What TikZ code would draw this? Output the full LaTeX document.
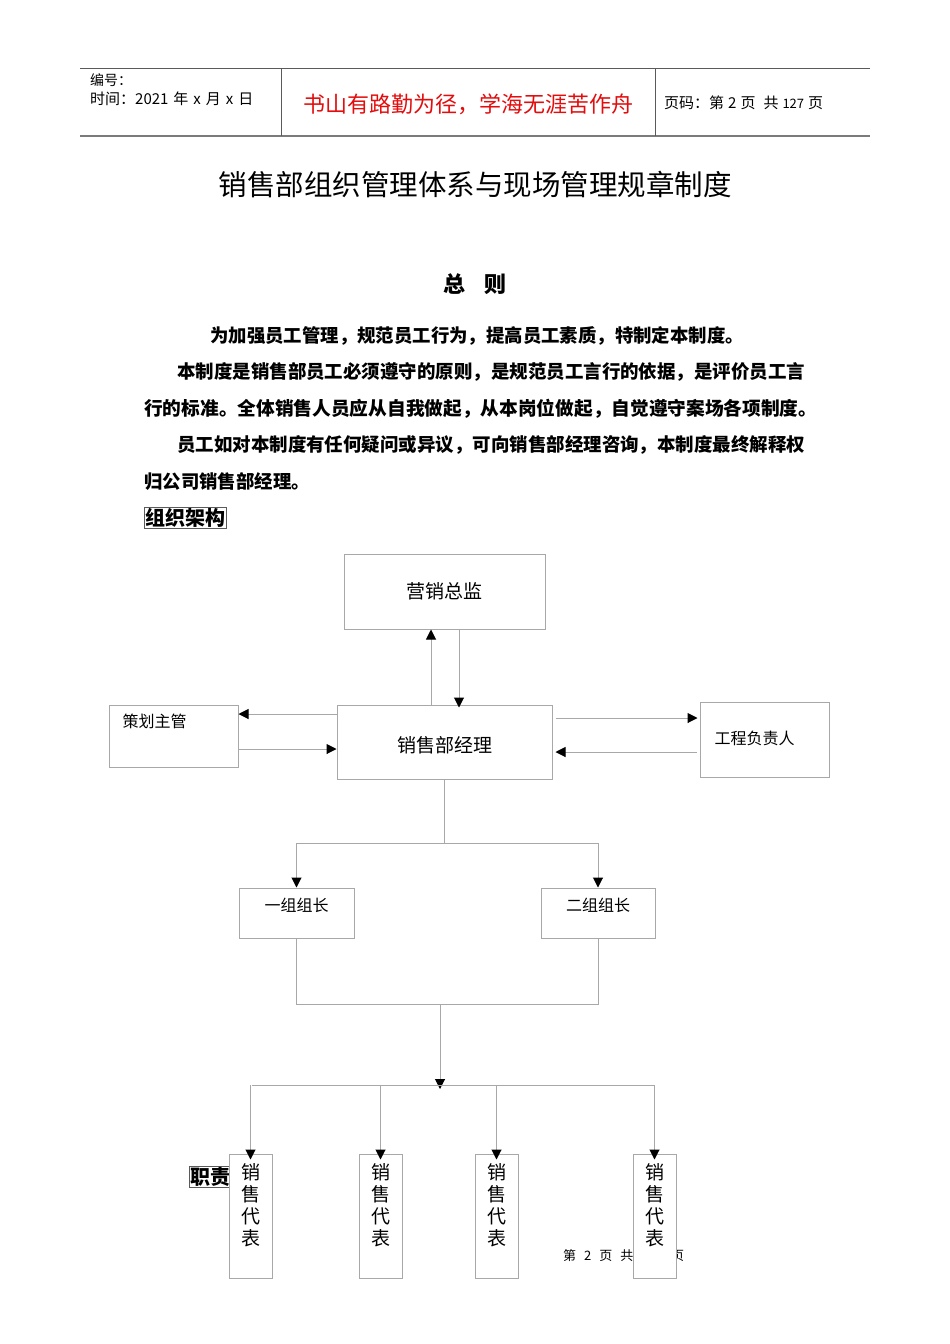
\documentclass[tikz,border=0pt]{standalone}
\usepackage{fontspec}
\setmainfont{Noto Sans CJK SC}
\usetikzlibrary{arrows.meta,calc,positioning}

\definecolor{boxgray}{RGB}{168,168,168}
\definecolor{rulegray}{RGB}{90,90,90}
\definecolor{mottored}{RGB}{228,12,12}
\newcommand\fs[1]{\fontsize{#1}{#1}\selectfont}

\begin{document}
\begin{tikzpicture}[x=1pt,y=-1pt,
    box/.style={draw=boxgray,line width=1pt,fill=white,inner sep=0pt},
    line/.style={draw=boxgray,line width=1pt},
    arr/.style={line,-{Triangle[color=black,length=10pt,width=10pt]}},
    txt/.style={anchor=west,inner sep=0pt}]
    \fill[white] (0,0) rectangle (950,1344);
    \useasboundingbox (0,0) rectangle (950,1344);

    % page head
    \draw[rulegray,line width=1pt] (80,68) -- (870,68);
    \draw[rulegray!80,line width=2pt] (80,136) -- (870,136);
    \draw[rulegray,line width=0.8pt] (281,68) -- (281,136);
    \draw[rulegray,line width=0.8pt] (655,68) -- (655,136);
    \node[txt] (bianhao) at (90,80) {\fs{14}编号：};
    \node[txt] (shijian) at (90,99) {\fs{15}时间：2021\hspace{5pt}年\hspace{5pt}x\hspace{5pt}月\hspace{5pt}x\hspace{5pt}日};
    \node[text=mottored] (motto) at (468,104) {\fs{22}书山有路勤为径，学海无涯苦作舟};
    \node[txt] (yema) at (664,103) {\fs{15}页码：第\hspace{4pt}2\hspace{4pt}页\hspace{8pt}共\hspace{4pt}{\fs{13}127}\hspace{4pt}页};

    % title and text
    \node (title) at (475,185) {\fs{28.5}销售部组织管理体系与现场管理规章制度};
    \node[font=\bfseries] (zongze) at (475,284) {\fs{22}总\hspace{19pt}则};
    \node[txt,font=\bfseries] (p1) at (210,336) {\fs{18.4}为加强员工管理，规范员工行为，提高员工素质，特制定本制度。};
    \node[txt,font=\bfseries] (p2) at (177,372) {\fs{18.47}本制度是销售部员工必须遵守的原则，是规范员工言行的依据，是评价员工言};
    \node[txt,font=\bfseries] (p3) at (144,409) {\fs{18.7}行的标准。全体销售人员应从自我做起，从本岗位做起，自觉遵守案场各项制度。};
    \node[txt,font=\bfseries] (p4) at (177,445) {\fs{18.47}员工如对本制度有任何疑问或异议，可向销售部经理咨询，本制度最终解释权};
    \node[txt,font=\bfseries] (p5) at (144,482) {\fs{18.4}归公司销售部经理。};
    \node[txt,draw=rulegray,inner sep=1pt,font=\bfseries] (jiagou) at (144,518) {\fs{20}组织架构};
    \node[txt,draw=rulegray,inner sep=1pt,font=\bfseries] (zhize) at (189,1177) {\fs{20}职责划分};
    \node[txt] (foot) at (563,1256) {\fs{13}第\hspace{8pt}2\hspace{8pt}页\hspace{8pt}共\hspace{8pt}127\hspace{8pt}页};

    % chart boxes
    \node[box,minimum width=201pt,minimum height=75pt] (zongjian) at (444.5,591.5) {\fs{19}营销总监};
    \node[box,minimum width=215pt,minimum height=74pt,
      label={[yshift=-3pt]center:\fs{19}销售部经理}] (jingli) at (444.5,742) {};
    \node[box,minimum width=129pt,minimum height=62pt,
      label={[xshift=-19pt,yshift=15pt]center:\fs{16}策划主管}] (cehua) at (173.5,736) {};
    \node[box,minimum width=129pt,minimum height=75pt,
      label={[xshift=-10pt,yshift=1pt]center:\fs{16}工程负责人}] (gongcheng) at (764.5,739.5) {};
    \node[box,minimum width=115pt,minimum height=50pt,
      label={[yshift=8pt]center:\fs{16}一组组长}] (zu1) at (296.5,913) {};
    \node[box,minimum width=114pt,minimum height=50pt,
      label={[yshift=8pt]center:\fs{16}二组组长}] (zu2) at (598,913) {};
    \foreach \n/\x in {1/250.5,2/380.5,3/496.5,4/654.5}
      \node[box,minimum width=43pt,minimum height=124pt,
        label={[yshift=11pt,align=center,font=\fontsize{19}{22}\selectfont]center:销\\售\\代\\表}] (daibiao\n) at (\x,1216) {};

    % connectors
    \draw[arr] ([xshift=-13.5pt]jingli.north) -- ([xshift=-13.5pt]zongjian.south);
    \draw[arr] ([xshift=14.5pt]zongjian.south) -- ([xshift=14.5pt,yshift=-3pt]jingli.north);
    \draw[arr] ([yshift=28pt]jingli.west) -- ([yshift=22pt]cehua.east);
    \draw[arr] ([yshift=-13pt]cehua.east) -- ([yshift=-7pt]jingli.west);
    \draw[arr] ([xshift=3pt,yshift=24pt]jingli.east) -- ([xshift=-2pt,yshift=21.5pt]gongcheng.west);
    \draw[arr] ([xshift=-3pt,yshift=-12.5pt]gongcheng.west) -- ([xshift=3pt,yshift=-10pt]jingli.east);

    \coordinate (b1) at (446,843);
    \draw[line] (jingli.south) -- (jingli.south |- b1);
    \draw[line] (zu1.north |- b1) -- (zu2.north |- b1);
    \draw[arr] (zu1.north |- b1) -- (zu1.north);
    \draw[arr] (zu2.north |- b1) -- (zu2.north);

    \coordinate (b2) at (440,1004);
    \coordinate (b3) at (440,1085);
    \draw[line] (zu1.south) -- (zu1.south |- b2) -- (zu2.south |- b2) -- (zu2.south);
    \draw[arr] (b2) -- ([yshift=-4pt]b3);
    \draw[line] ([xshift=1.5pt]daibiao1.north |- b3) -- (daibiao4.north |- b3);
    \foreach \n in {1,...,4}
      \draw[arr] (daibiao\n.north |- b3) -- ([yshift=-6pt]daibiao\n.north);
\end{tikzpicture}
\end{document}
